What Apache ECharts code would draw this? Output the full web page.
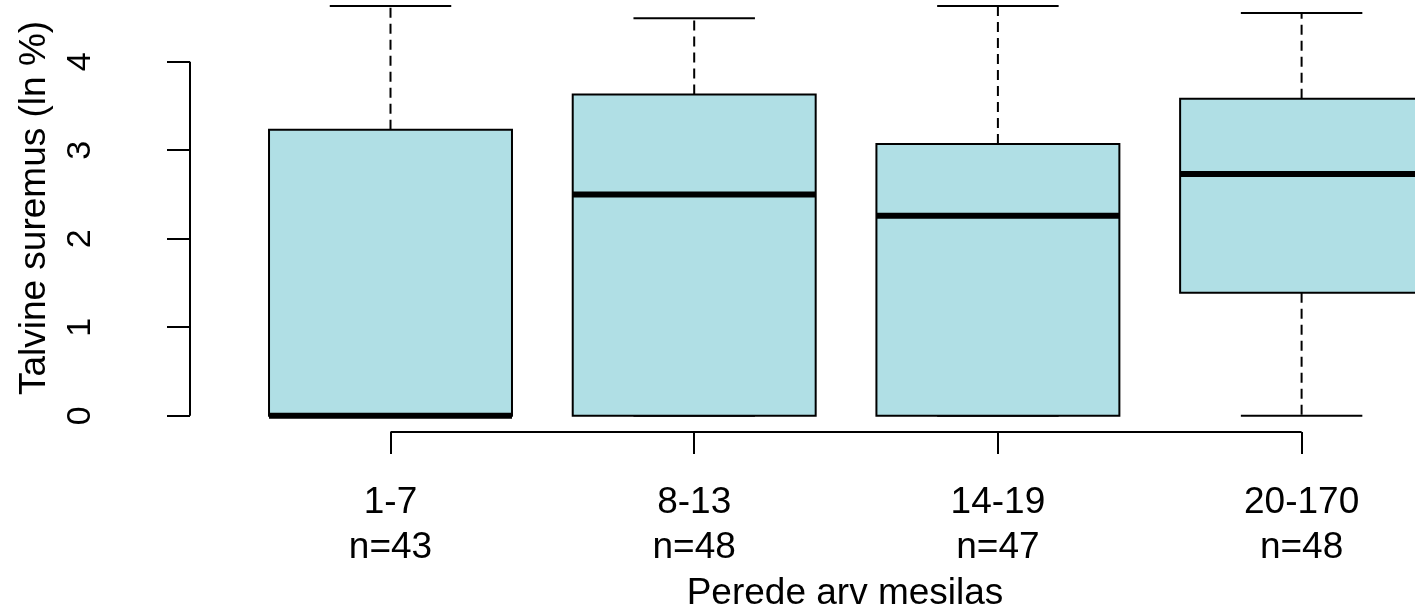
<!DOCTYPE html>
<html>
<head>
<meta charset="utf-8">
<script src="https://cdn.jsdelivr.net/npm/echarts@6/dist/echarts.min.js"></script>
<style>
html,body{margin:0;padding:0;background:#fff}
#chart{width:1415px;height:610px}
</style>
</head>
<body>
<div id="chart"></div>
<script>
// box plot stats (ln %)
const groups=['1-7','8-13','14-19','20-170']
const counts=[43,48,47,48]
const positions=[1,2,3,4]
const whiskerLow=[0,0,0,0]
const q1=[0,0,0,1.39]
const median=[0,2.5,2.26,2.73]
const q3=[3.23,3.63,3.07,3.58]
const whiskerHigh=[4.63,4.49,4.63,4.55]
const yTicks=[0,1,2,3,4]

const font='"Liberation Sans", Arial, sans-serif'
const xMin=0.3398, xMax=4.3734
const yMin=-0.184, yMax=4.697

const boxData=positions.map((p,i)=>[p,whiskerLow[i],q1[i],median[i],q3[i],whiskerHigh[i]])

function renderBox(params,api){
    const x=api.value(0)
    const half=0.4, cap=0.2
    const pLow=api.coord([x,api.value(1)])
    const pQ1=api.coord([x,api.value(2)])
    const pMed=api.coord([x,api.value(3)])
    const pQ3=api.coord([x,api.value(4)])
    const pHigh=api.coord([x,api.value(5)])
    const w=api.size([half,0])[0]
    const cw=api.size([cap,0])[0]
    const line={stroke:'#000',lineWidth:2}
    const dashed={stroke:'#000',lineWidth:2,lineDash:[10,6]}
    const children=[]
    children.push({type:'line',shape:{x1:pQ3[0],y1:pQ3[1],x2:pHigh[0],y2:pHigh[1]},style:dashed})
    if(pLow[1]-pQ1[1]>0.5){
        children.push({type:'line',shape:{x1:pQ1[0],y1:pQ1[1],x2:pLow[0],y2:pLow[1]},style:dashed})
    }
    children.push({type:'line',shape:{x1:pHigh[0]-cw,y1:pHigh[1],x2:pHigh[0]+cw,y2:pHigh[1]},style:line})
    children.push({type:'line',shape:{x1:pLow[0]-cw,y1:pLow[1],x2:pLow[0]+cw,y2:pLow[1]},style:line})
    children.push({type:'rect',shape:{x:pQ3[0]-w,y:pQ3[1],width:2*w,height:pQ1[1]-pQ3[1]},
        style:{fill:'#b0dfe5',stroke:'#000',lineWidth:2}})
    children.push({type:'line',shape:{x1:pMed[0]-w,y1:pMed[1],x2:pMed[0]+w,y2:pMed[1]},
        style:{stroke:'#000',lineWidth:6}})
    return {type:'group',children:children}
}

function renderAxes(params,api){
    const a=api.coord([positions[0],yMin])
    const b=api.coord([positions[positions.length-1],yMin])
    const c=api.coord([xMin,yTicks[0]])
    const d=api.coord([xMin,yTicks[yTicks.length-1]])
    const st={stroke:'#000',lineWidth:2}
    return {type:'group',children:[
        {type:'line',shape:{x1:a[0],y1:a[1],x2:b[0],y2:b[1]},style:st},
        {type:'line',shape:{x1:c[0],y1:c[1],x2:d[0],y2:d[1]},style:st}
    ]}
}

const chart=echarts.init(document.getElementById('chart'))
chart.setOption({
    backgroundColor:'#fff',
    animation:false,
    grid:{left:190,right:0,top:0,bottom:178,outerBoundsMode:'none',containLabel:false},
    xAxis:{
        type:'value',min:xMin,max:xMax,
        axisLine:{show:false,onZero:false},
        splitLine:{show:false},
        axisTick:{show:true,customValues:positions,length:22,lineStyle:{color:'#000',width:2}},
        axisLabel:{
            customValues:positions,margin:48,fontSize:37,lineHeight:45,color:'#000',fontFamily:font,
            formatter:(v)=>{
                const i=positions.indexOf(v)
                return groups[i]+'\nn='+counts[i]
            }
        },
        name:'Perede arv mesilas',nameLocation:'middle',nameGap:143,
        nameTextStyle:{fontSize:37,color:'#000',fontFamily:font,padding:[0,0,0,85]}
    },
    yAxis:{
        type:'value',min:yMin,max:yMax,
        axisLine:{show:false,onZero:false},
        splitLine:{show:false},
        axisTick:{show:true,customValues:yTicks,length:23,lineStyle:{color:'#000',width:2}},
        axisLabel:{customValues:yTicks,rotate:90,margin:92,fontSize:34,color:'#000',fontFamily:font},
        name:'Talvine suremus (ln %)',nameLocation:'middle',nameGap:137,
        nameTextStyle:{fontSize:37,color:'#000',fontFamily:font,padding:[0,0,0,16]}
    },
    series:[
        {type:'custom',renderItem:renderAxes,data:[[0,0]],silent:true,clip:false},
        {type:'custom',renderItem:renderBox,encode:{x:0,y:[1,2,3,4,5]},data:boxData,clip:true}
    ]
})
</script>
</body>
</html>
